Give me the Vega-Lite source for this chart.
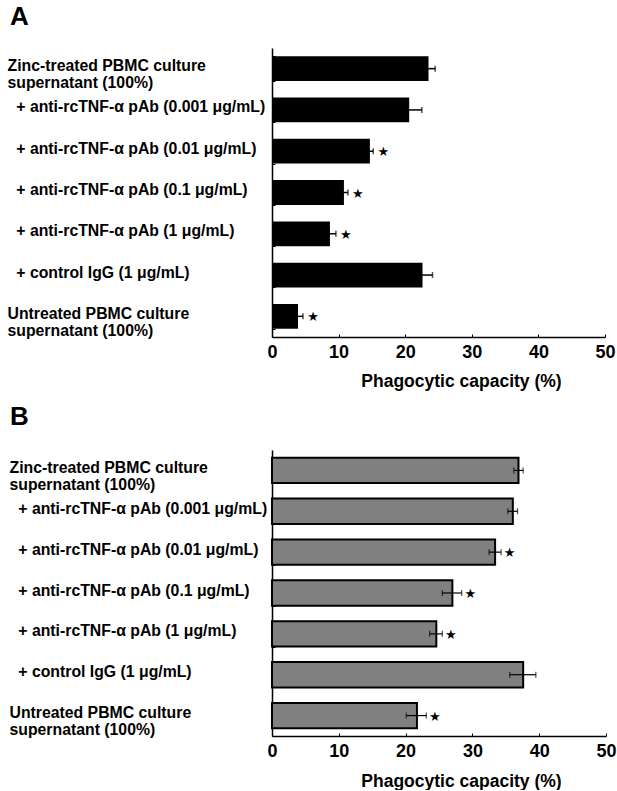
{
  "$schema": "https://vega.github.io/schema/vega-lite/v6.json",
  "padding": {"left": 7, "top": 4, "right": 2, "bottom": 0},
  "background": "white",
  "spacing": 14,
  "config": {
    "view": {"stroke": null},
    "font": "Liberation Sans",
    "axis": {"domainColor": "black", "tickColor": "black", "labelColor": "black", "titleColor": "black", "grid": false}
  },
  "datasets": {
    "A": [
      {"c": "Zinc-treated PBMC culture|supernatant (100%)", "v": 23.5, "lo": 22.5, "hi": 24.5, "sig": false},
      {"c": "+ anti-rcTNF-α pAb (0.001 μg/mL)", "v": 20.6, "lo": 18.7, "hi": 22.5, "sig": false},
      {"c": "+ anti-rcTNF-α pAb (0.01 μg/mL)", "v": 14.7, "lo": 14.2, "hi": 15.2, "sig": true},
      {"c": "+ anti-rcTNF-α pAb (0.1 μg/mL)", "v": 10.8, "lo": 10.2, "hi": 11.4, "sig": true},
      {"c": "+ anti-rcTNF-α pAb (1 μg/mL)", "v": 8.7, "lo": 7.8, "hi": 9.6, "sig": true},
      {"c": "+ control IgG (1 μg/mL)", "v": 22.6, "lo": 21.1, "hi": 24.1, "sig": false},
      {"c": "Untreated PBMC culture|supernatant (100%)", "v": 3.9, "lo": 3.15, "hi": 4.65, "sig": true}
    ],
    "B": [
      {"c": "Zinc-treated PBMC culture|supernatant (100%)", "v": 36.9, "lo": 36.2, "hi": 37.6, "sig": false},
      {"c": "+ anti-rcTNF-α pAb (0.001 μg/mL)", "v": 36.05, "lo": 35.3, "hi": 36.75, "sig": false},
      {"c": "+ anti-rcTNF-α pAb (0.01 μg/mL)", "v": 33.4, "lo": 32.5, "hi": 34.3, "sig": true},
      {"c": "+ anti-rcTNF-α pAb (0.1 μg/mL)", "v": 27.0, "lo": 25.5, "hi": 28.4, "sig": true},
      {"c": "+ anti-rcTNF-α pAb (1 μg/mL)", "v": 24.6, "lo": 23.6, "hi": 25.5, "sig": true},
      {"c": "+ control IgG (1 μg/mL)", "v": 37.6, "lo": 35.6, "hi": 39.5, "sig": false},
      {"c": "Untreated PBMC culture|supernatant (100%)", "v": 21.7, "lo": 20.1, "hi": 23.1, "sig": true}
    ]
  },
  "vconcat": [
    {
      "title": {"text": "A", "anchor": "start", "fontSize": 26, "fontWeight": "bold", "font": "Liberation Sans", "color": "black", "offset": 10, "dx": 3},
      "width": 333,
      "height": 289,
      "data": {"name": "A"},
      "encoding": {
        "y": {
          "field": "c", "type": "nominal", "sort": null,
          "scale": {"paddingInner": 0.4, "paddingOuter": 0.2},
          "axis": {
            "title": null, "domainWidth": 1.5, "ticks": true, "tickBand": "extent", "tickSize": -3, "tickWidth": 1,
            "labelAlign": "left", "labelBaseline": "middle", "labelFontSize": 15.8, "labelFontWeight": "bold",
            "labelLineHeight": 17, "labelLimit": 400, "labelOverlap": false, "labelPadding": 268, "labelOffset": -3,
            "labelExpr": "indexof(datum.label, '+') === 0 ? '\u200b\u00a0\u00a0' + datum.label : split(datum.label, '|')"
          }
        }
      },
      "layer": [
        {
          "mark": {"type": "bar", "color": "black"},
          "encoding": {
            "x": {"field": "v", "type": "quantitative", "title": "Phagocytic capacity (%)", "scale": {"domain": [0, 50], "nice": false},
              "axis": {"values": [0, 10, 20, 30, 40, 50], "titleFontSize": 17.5, "titleFontWeight": "bold",
                "titleX": 189, "titlePadding": 11, "labelFontSize": 18, "labelFontWeight": "bold", "labelPadding": 9, "labelFlush": false,
                "tickSize": -3, "tickWidth": 1, "domainWidth": 1.5}}
          }
        },
        {
          "mark": {"type": "errorbar", "color": "black", "thickness": 1.5, "ticks": {"size": 6}},
          "encoding": {"x": {"field": "lo", "type": "quantitative", "title": "Phagocytic capacity (%)"}, "x2": {"field": "hi"}}
        },
        {
          "transform": [{"filter": "datum.sig"}],
          "mark": {"type": "text", "text": "★", "font": "DejaVu Sans", "fontSize": 13, "color": "black", "align": "center", "baseline": "middle", "dx": 10, "dy": 1},
          "encoding": {"x": {"field": "hi", "type": "quantitative", "title": "Phagocytic capacity (%)"}}
        }
      ]
    },
    {
      "title": {"text": "B", "anchor": "start", "fontSize": 26, "fontWeight": "bold", "font": "Liberation Sans", "color": "black", "offset": 12, "dx": 1},
      "width": 334,
      "height": 286,
      "data": {"name": "B"},
      "encoding": {
        "y": {
          "field": "c", "type": "nominal", "sort": null,
          "scale": {"paddingInner": 0.38, "paddingOuter": 0.19},
          "axis": {
            "title": null, "domainWidth": 1.5, "ticks": true, "tickBand": "extent", "tickSize": -3, "tickWidth": 1,
            "labelAlign": "left", "labelBaseline": "middle", "labelFontSize": 15.8, "labelFontWeight": "bold",
            "labelLineHeight": 17, "labelLimit": 400, "labelOverlap": false, "labelPadding": 266, "labelOffset": -3,
            "labelExpr": "indexof(datum.label, '+') === 0 ? '\u200b\u00a0\u00a0' + datum.label : split(datum.label, '|')"
          }
        }
      },
      "layer": [
        {
          "mark": {"type": "bar", "color": "#808080", "stroke": "black", "strokeWidth": 2},
          "encoding": {
            "x": {"field": "v", "type": "quantitative", "title": "Phagocytic capacity (%)", "scale": {"domain": [0, 50], "nice": false},
              "axis": {"values": [0, 10, 20, 30, 40, 50], "titleFontSize": 17.5, "titleFontWeight": "bold",
                "titleX": 189, "titlePadding": 12, "labelFontSize": 18, "labelFontWeight": "bold", "labelPadding": 9, "labelFlush": false,
                "tickSize": -3, "tickWidth": 1, "domainWidth": 1.5}}
          }
        },
        {
          "mark": {"type": "errorbar", "color": "black", "thickness": 1.2, "ticks": {"size": 6}},
          "encoding": {"x": {"field": "lo", "type": "quantitative", "title": "Phagocytic capacity (%)"}, "x2": {"field": "hi"}}
        },
        {
          "transform": [{"filter": "datum.sig"}],
          "mark": {"type": "text", "text": "★", "font": "DejaVu Sans", "fontSize": 13, "color": "black", "align": "center", "baseline": "middle", "dx": 8.5, "dy": 1},
          "encoding": {"x": {"field": "hi", "type": "quantitative", "title": "Phagocytic capacity (%)"}}
        }
      ]
    }
  ]
}
